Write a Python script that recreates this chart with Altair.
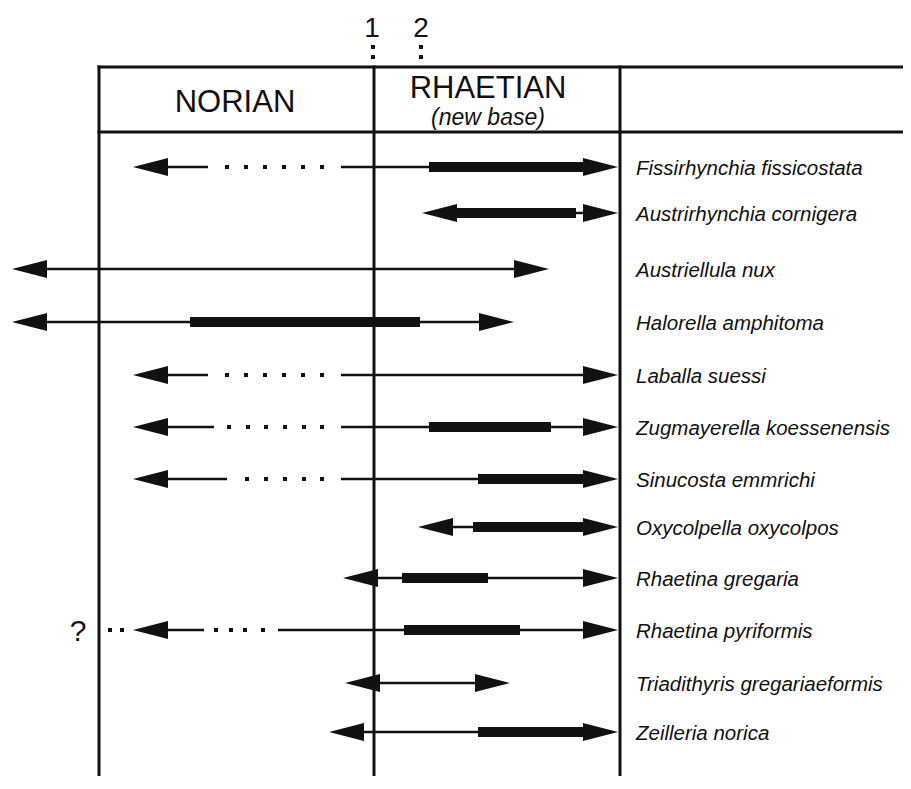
import altair as alt
import pandas as pd

# ---------------- data ----------------
species = [
    "Fissirhynchia fissicostata",
    "Austrirhynchia cornigera",
    "Austriellula nux",
    "Halorella amphitoma",
    "Laballa suessi",
    "Zugmayerella koessenensis",
    "Sinucosta emmrichi",
    "Oxycolpella oxycolpos",
    "Rhaetina gregaria",
    "Rhaetina pyriformis",
    "Triadithyris gregariaeformis",
    "Zeilleria norica",
]
row_y = [167, 213, 269, 322, 375, 427, 479, 527, 578, 630, 683, 732]

# thin (range) lines: row index, start, end
thin_row = [0, 0, 1, 2, 3, 4, 4, 5, 5, 6, 6, 7, 8, 9, 9, 10, 11]
thin_from = [140, 341, 440, 20, 20, 140, 341, 140, 341, 140, 341, 430, 355, 140, 278, 355, 340]
thin_to = [208, 600, 600, 530, 500, 208, 600, 214, 600, 227, 600, 600, 600, 204, 600, 495, 600]

# thick (acme) bars
thick_row = [0, 1, 3, 5, 6, 7, 8, 9, 11]
thick_from = [429, 457, 190, 429, 478, 473, 402, 404, 478]
thick_to = [588, 576, 420, 551, 588, 588, 488, 520, 588]

# dotted (uncertain) parts
dot_row = [0] * 6 + [4] * 6 + [5] * 6 + [6] * 5 + [9] * 6
dot_x = [227, 246, 265, 284, 303, 322,
         227, 246, 265, 284, 303, 322,
         229, 248, 266, 285, 304, 322,
         247, 266, 285, 304, 322,
         110, 122, 216, 231, 245, 263]

# arrow tips
left_tip = [133, 422, 12, 12, 133, 133, 133, 418, 343, 133, 345, 329]
right_tip = [618, 618, 549, 514, 618, 618, 618, 618, 618, 618, 510, 618]

# stage boundaries / frame
frame_x1 = [99, 374, 620, 99, 99]
frame_x2 = [99, 374, 620, 903, 903]
frame_y1 = [67, 67, 67, 67, 132]
frame_y2 = [776, 776, 776, 67, 132]

stage_names = ["NORIAN", "RHAETIAN"]
stage_x = [235, 488]
stage_y = [112, 98]
sub_label = ["(new base)"]
sub_x = [488]
sub_y = [125]

marker_labels = ["1", "2"]
marker_x = [372, 421]
marker_y = [37, 37]
marker_dot_x = [373, 373, 421, 421]
marker_dot_y = [47, 57, 47, 57]

query_label = ["?"]
query_x = [78]
query_y = [641]

# ---------------- build tables ----------------
thin_df = pd.DataFrame({"x1": thin_from, "x2": thin_to, "y": [row_y[r] for r in thin_row]})
thick_df = pd.DataFrame({"x1": thick_from, "x2": thick_to, "y": [row_y[r] for r in thick_row]})
dot_df = pd.DataFrame({"x": dot_x, "y": [row_y[r] for r in dot_row]})
left_df = pd.DataFrame({"x": left_tip, "y": row_y})
right_df = pd.DataFrame({"x": right_tip, "y": row_y})
label_df = pd.DataFrame({"name": species, "x": [636] * len(species), "y": row_y})
frame_df = pd.DataFrame({"x1": frame_x1, "x2": frame_x2, "y1": frame_y1, "y2": frame_y2})
stage_df = pd.DataFrame({"t": stage_names, "x": stage_x, "y": stage_y})
sub_df = pd.DataFrame({"t": sub_label, "x": sub_x, "y": sub_y})
marker_df = pd.DataFrame({"t": marker_labels, "x": marker_x, "y": marker_y})
mdot_df = pd.DataFrame({"x": marker_dot_x, "y": marker_dot_y})
query_df = pd.DataFrame({"t": query_label, "x": query_x, "y": query_y})

W, H = 895, 768
xs = alt.Scale(domain=[8, 8 + W], nice=False, zero=False)
ys = alt.Scale(domain=[8, 8 + H], nice=False, zero=False, reverse=True)


def X(f):
    return alt.X(f, type="quantitative", scale=xs, axis=None)


def Y(f):
    return alt.Y(f, type="quantitative", scale=ys, axis=None)


INK = "#111111"
FONT = "Liberation Sans"

frame = alt.Chart(frame_df).mark_rule(color=INK, strokeWidth=3, strokeCap="square").encode(
    x=X("x1"), x2="x2", y=Y("y1"), y2="y2")

thin = alt.Chart(thin_df).mark_rule(color=INK, strokeWidth=2.6, strokeCap="butt").encode(
    x=X("x1"), x2="x2", y=Y("y"))

thick = alt.Chart(thick_df).mark_rule(color=INK, strokeWidth=10, strokeCap="butt").encode(
    x=X("x1"), x2="x2", y=Y("y"))

dots = alt.Chart(dot_df).mark_square(color=INK, size=16, opacity=1).encode(x=X("x"), y=Y("y"))

right_arrow = alt.Chart(right_df).mark_point(
    shape="M0,0L-2,-0.52L-2,0.52Z", size=1225, filled=True, color=INK, opacity=1, strokeWidth=0
).encode(x=X("x"), y=Y("y"))

left_arrow = alt.Chart(left_df).mark_point(
    shape="M0,0L2,-0.52L2,0.52Z", size=1225, filled=True, color=INK, opacity=1, strokeWidth=0
).encode(x=X("x"), y=Y("y"))

labels = alt.Chart(label_df).mark_text(
    align="left", baseline="alphabetic", dy=8, font=FONT, fontSize=20.5, fontStyle="italic", color=INK
).encode(x=X("x"), y=Y("y"), text="name")

stages = alt.Chart(stage_df).mark_text(
    align="center", baseline="alphabetic", font=FONT, fontSize=31, color=INK
).encode(x=X("x"), y=Y("y"), text="t")

sub = alt.Chart(sub_df).mark_text(
    align="center", baseline="alphabetic", font=FONT, fontSize=23, fontStyle="italic", color=INK
).encode(x=X("x"), y=Y("y"), text="t")

markers = alt.Chart(marker_df).mark_text(
    align="center", baseline="alphabetic", font=FONT, fontSize=28, color=INK
).encode(x=X("x"), y=Y("y"), text="t")

mdots = alt.Chart(mdot_df).mark_square(color=INK, size=16, opacity=1).encode(x=X("x"), y=Y("y"))

query = alt.Chart(query_df).mark_text(
    align="center", baseline="alphabetic", font=FONT, fontSize=30, color=INK
).encode(x=X("x"), y=Y("y"), text="t")

chart = alt.layer(
    frame, thin, thick, dots, right_arrow, left_arrow, labels, stages, sub, markers, mdots, query
).properties(
    width=W, height=H, padding=0, autosize=alt.AutoSizeParams(type="none"), background="white"
).configure_view(stroke=None)

chart.save("out.html", embed_options={"renderer": "svg", "actions": False})
